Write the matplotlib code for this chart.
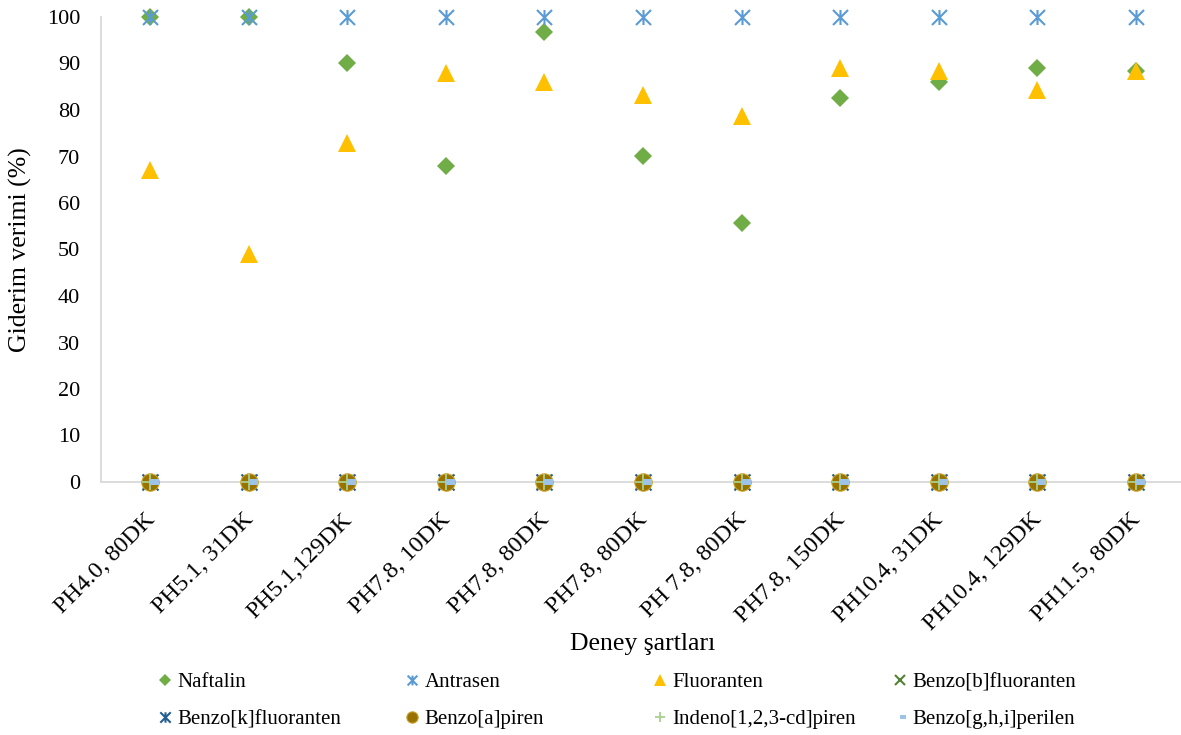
import numpy as np
import matplotlib
matplotlib.use("Agg")
import matplotlib.pyplot as plt
import matplotlib.transforms as mtransforms
from matplotlib.path import Path

plt.rcParams['font.family'] = ['Liberation Serif', 'DejaVu Serif']

# Experimental conditions (pH, contact time)
conditions = ["PH4.0, 80DK", "PH5.1, 31DK", "PH5.1,129DK", "PH7.8, 10DK",
              "PH7.8, 80DK", "PH7.8, 80DK", "PH 7.8, 80DK", "PH7.8, 150DK",
              "PH10.4, 31DK", "PH10.4, 129DK", "PH11.5, 80DK"]

# Removal efficiency (%) per compound
naftalin = [100, 100, 90.0, 67.9, 96.7, 70.1, 55.6, 82.5, 86.1, 89.0, 88.3]
antrasen = [100, 100, 100, 100, 100, 100, 100, 100, 100, 100, 100]
fluoranten = [67.1, 49.0, 72.9, 88.0, 86.0, 83.3, 78.8, 89.1, 88.4, 84.3, 88.3]
benzo_b_fluoranten = [0, 0, 0, 0, 0, 0, 0, 0, 0, 0, 0]
benzo_k_fluoranten = [0, 0, 0, 0, 0, 0, 0, 0, 0, 0, 0]
benzo_a_piren = [0, 0, 0, 0, 0, 0, 0, 0, 0, 0, 0]
indeno_piren = [0, 0, 0, 0, 0, 0, 0, 0, 0, 0, 0]
benzo_ghi_perilen = [0, 0, 0, 0, 0, 0, 0, 0, 0, 0, 0]

series_names = ["Naftalin", "Antrasen", "Fluoranten", "Benzo[b]fluoranten",
                "Benzo[k]fluoranten", "Benzo[a]piren", "Indeno[1,2,3-cd]piren",
                "Benzo[g,h,i]perilen"]

# Star marker: an X inside the box plus a vertical bar
star = Path([(-0.5, -0.5), (0.5, 0.5), (-0.5, 0.5), (0.5, -0.5), (0, -0.5), (0, 0.5)],
            [Path.MOVETO, Path.LINETO, Path.MOVETO, Path.LINETO, Path.MOVETO, Path.LINETO])
# Short dash starting at the point and extending to the right
dash = Path([(0, -0.33), (1, -0.33), (1, 0.33), (0, 0.33), (0, -0.33)],
            [Path.MOVETO, Path.LINETO, Path.LINETO, Path.LINETO, Path.CLOSEPOLY])

fig = plt.figure(figsize=(11.81, 7.35), dpi=100)
ax = fig.add_axes([101 / 1181, 1 - 482 / 735, 1 - 101 / 1181, (482 - 17) / 735])

x = np.arange(len(conditions))

styles = [
    dict(marker='D', ms=9.2, color='#70AD47', mec='#70AD47', mew=0),
    dict(marker=star, ms=10.8, color='#5B9BD5', mec='#5B9BD5', mew=1.5),
    dict(marker='^', ms=13, color='#FFC000', mec='#FFC000', mew=0),
    dict(marker='x', ms=10, color='#548235', mec='#548235', mew=1.5),
    dict(marker=star, ms=11.5, color='#255E91', mec='#255E91', mew=1.5),
    dict(marker='o', ms=12.5, color='#997300', mec='#C9A227', mew=0.8),
    dict(marker='+', ms=11.5, color='#A9D18E', mec='#A9D18E', mew=1.3),
    dict(marker=dash, ms=13, color='#9DC3E6', mec='#9DC3E6', mew=0),
]
values = [naftalin, antrasen, fluoranten, benzo_b_fluoranten, benzo_k_fluoranten,
          benzo_a_piren, indeno_piren, benzo_ghi_perilen]

handles = []
for name, vals, st in zip(series_names, values, styles):
    h, = ax.plot(x, vals, linestyle='none', label=name, clip_on=False, **st)
    handles.append(h)

ax.set_xlim(-0.5, 10.46)
ax.set_ylim(0, 100)
ax.set_yticks(np.arange(0, 101, 10))
ax.set_xticks(x)
ax.set_xticklabels(conditions, rotation=45, ha='right', va='top',
                   rotation_mode='anchor', fontsize=17.5)
ax.tick_params(axis='y', length=0, pad=15, labelsize=16)
ax.tick_params(axis='x', length=0, pad=16)

# nudge the slanted category labels down and left
shift = mtransforms.ScaledTranslation(-6 / 100, -5 / 100, fig.dpi_scale_trans)
for lbl in ax.get_xticklabels():
    lbl.set_transform(lbl.get_transform() + shift)

for side in ['top', 'right']:
    ax.spines[side].set_visible(False)
for side in ['left', 'bottom']:
    ax.spines[side].set_color('#D9D9D9')
    ax.spines[side].set_linewidth(1.3)
    ax.spines[side].set_zorder(0)

fig.text(643 / 1181, 1 - 650 / 735, "Deney şartları", ha='center', va='baseline',
         fontsize=18.5)
fig.text(20 / 1181, 1 - 250 / 735, "Giderim verimi (%)", ha='center', va='center',
         rotation=90, fontsize=18.5)

# Legend: four columns of two entries each
col_x = [165, 412, 660, 900]
for i, cx in enumerate(col_x):
    hs = [handles[i], handles[i + 4]]
    fs = 15
    hl = 0.6
    left = cx - hl * fs * 1.389 / 2
    fig.legend(handles=hs, loc='center left',
               bbox_to_anchor=(left / 1181, 1 - 701 / 735),
               frameon=False, fontsize=fs, handlelength=hl, handletextpad=0.3,
               markerscale=0.65, labelspacing=0.84, borderpad=0, borderaxespad=0)

fig.savefig("out.png", dpi=100)
